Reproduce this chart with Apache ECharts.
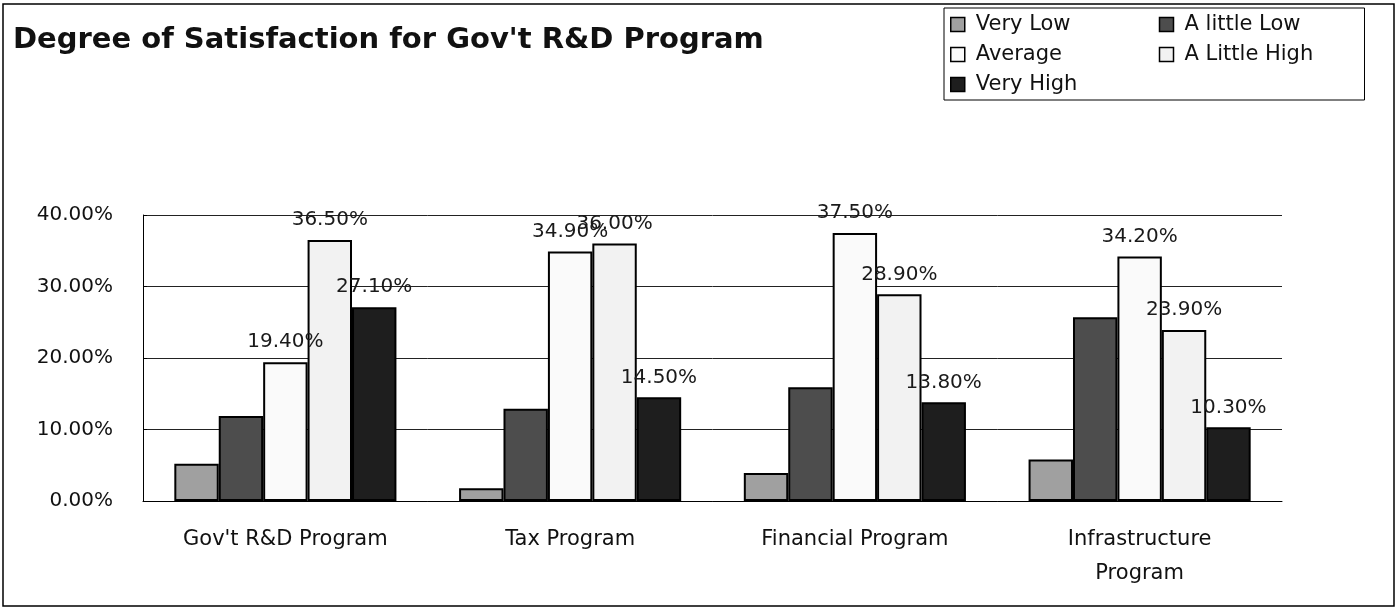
<!DOCTYPE html>
<html lang="en" style="height:100%">
<head>
    <meta charset="UTF-8">
    <title>Degree of Satisfaction</title>
</head>
<body style="height: 100%; margin: 0; background: #fff">
<div id="container" style="width:1399px; height:608px"></div>
<script type="text/javascript" src="https://cdn.jsdelivr.net/npm/echarts@6/dist/echarts.min.js"></script>
<script type="text/javascript">

    var categories = ["Gov't R&D Program", "Tax Program", "Financial Program", "Infrastructure\nProgram"];
    var seriesNames = ['Very Low', 'A little Low', 'Average', 'A Little High', 'Very High'];
    var veryLow = [5.2, 1.8, 3.9, 5.8];
    var littleLow = [11.9, 12.9, 15.9, 25.7];
    var average = [19.4, 34.9, 37.5, 34.2];
    var littleHigh = [36.5, 36.0, 28.9, 23.9];
    var veryHigh = [27.1, 14.5, 13.8, 10.3];
    var yTicks = [0, 10, 20, 30, 40];

    var values = [veryLow, littleLow, average, littleHigh, veryHigh];
    var colors = ['#a0a0a0', '#4d4d4d', '#fafafa', '#f2f2f2', '#1e1e1e'];
    var showLabel = [false, false, true, true, true];
    var font = 'DejaVu Sans';

    var dom = document.getElementById("container");
    var myChart = echarts.init(dom);

    var series = [];
    for (var i = 0; i < seriesNames.length; i++) {
        series.push({
            name: seriesNames[i],
            type: 'bar',
            data: values[i],
            barGap: '0%',
            barCategoryGap: '22%',
            itemStyle: {
                color: colors[i],
                borderColor: '#000',
                borderWidth: 2
            },
            label: {
                show: showLabel[i],
                position: 'top',
                distance: 10,
                fontFamily: font,
                fontSize: 20,
                color: '#1a1a1a',
                formatter: function (p) {
                    return p.value.toFixed(2) + '%';
                }
            }
        });
    }

    var option = {
        backgroundColor: '#fff',
        animation: false,
        title: {
            text: "Degree of Satisfaction for Gov't R&D Program",
            left: 8,
            top: 21,
            textStyle: {
                fontFamily: font,
                fontSize: 29,
                fontWeight: 'bold',
                color: '#111'
            }
        },
        //图例组件
        legend: {
            data: seriesNames,
            left: 944,
            top: 8,
            width: 420,
            padding: [6, 6, 5, 6],
            itemGap: 9,
            itemWidth: 14,
            itemHeight: 14,
            borderColor: '#000',
            borderWidth: 1,
            icon: 'rect',
            itemStyle: {
                borderColor: '#000',
                borderWidth: 1.5
            },
            textStyle: {
                fontFamily: font,
                fontSize: 21,
                color: '#111',
                width: 174,
                lineHeight: 20,
                padding: [0, 0, 0, 6]
            }
        },
        grid: {
            left: 143,
            right: 117,
            top: 215,
            bottom: 107
        },
        xAxis: {
            type: 'category',
            data: categories,
            axisLine: { lineStyle: { color: '#000', width: 1 } },
            axisTick: { inside: true, length: 6, lineStyle: { color: '#000' } },
            axisLabel: {
                fontFamily: font,
                fontSize: 21,
                color: '#111',
                margin: 22,
                lineHeight: 34
            }
        },
        yAxis: {
            type: 'value',
            min: yTicks[0],
            max: yTicks[yTicks.length - 1],
            interval: 10,
            axisLine: { show: true, lineStyle: { color: '#000', width: 1 } },
            axisTick: { show: true, inside: true, length: 4, lineStyle: { color: '#000' } },
            splitLine: { lineStyle: { color: '#222', width: 1 } },
            axisLabel: {
                fontFamily: font,
                fontSize: 20,
                color: '#111',
                margin: 30,
                formatter: function (v) {
                    return v.toFixed(2) + '%';
                }
            }
        },
        graphic: [{
            type: 'rect',
            z: -1,
            shape: { x: 3, y: 4, width: 1391, height: 602 },
            style: { fill: 'none', stroke: '#000', lineWidth: 1.5 }
        }],
        series: series
    };
    myChart.setOption(option, true);

</script>
</body>
</html>
